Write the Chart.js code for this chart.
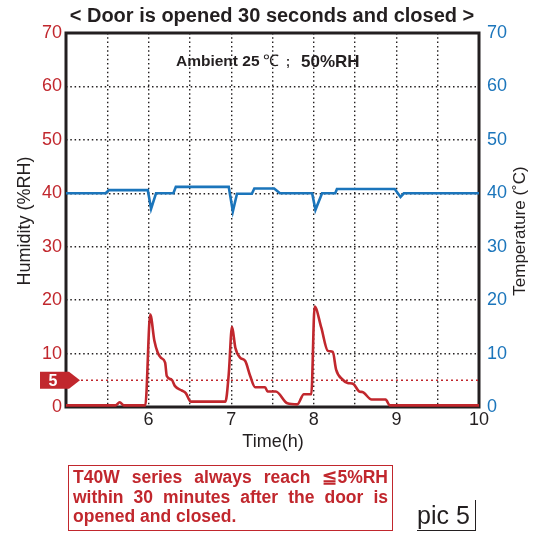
<!DOCTYPE html>
<html>
<head>
<meta charset="utf-8">
<script src="https://cdn.jsdelivr.net/npm/chart.js@4/dist/chart.umd.min.js"></script>
<style>
  html, body { margin: 0; padding: 0; background: #fff; }
  #wrap { position: relative; width: 545px; height: 533px; overflow: hidden; font-family: "Liberation Sans", Arial, sans-serif; }
  #note {
    position: absolute; left: 68px; top: 465px; width: 315px; height: 62px;
    border: 1.5px solid #c1272d; padding: 2px 4px 0 4px;
    color: #c1272d; font-weight: bold; font-size: 17.5px; line-height: 19.5px;
  }
  #note .j { text-align: justify; text-align-last: justify; }
  #pic {
    position: absolute; left: 417px; top: 500px; width: 58px; height: 30px;
    border-right: 1.5px solid #231f20; border-bottom: 1.5px solid #231f20;
    color: #231f20; font-size: 25px; line-height: 30px;
  }
</style>
</head>
<body>
<div id="wrap">
  <canvas id="chart" width="545" height="533"></canvas>
  <div id="note">
    <div class="j">T40W series always reach ≦5%RH</div>
    <div class="j">within 30 minutes after the door is</div>
    <div>opened and closed.</div>
  </div>
  <div id="pic">pic 5</div>
</div>
<script>
const RED = '#c1272d';
const BLUE = '#1b75bb';
const INK = '#231f20';

// humidity (%RH) vs time (h)
const humTime = [5.0, 5.6, 5.65, 5.7, 5.96, 6.02, 6.07, 6.11, 6.15, 6.2, 6.22, 6.28, 6.32, 6.4, 6.45, 6.51,
  6.93, 6.97, 7.01, 7.05, 7.11, 7.17, 7.23, 7.29, 7.41, 7.44, 7.54, 7.68, 7.8, 7.88, 7.97,
  8.01, 8.09, 8.17, 8.23, 8.27, 8.35, 8.41, 8.48, 8.55, 8.59, 8.7, 8.87, 8.92, 10.0];
const humValues = [0.3, 0.3, 0.9, 0.3, 0.3, 17.3, 12.4, 10.2, 9.2, 8.3, 5.8, 5.1, 3.9, 3.1, 2.6, 1.0,
  1.0, 6.1, 15.0, 11.1, 9.2, 8.6, 5.8, 3.7, 3.7, 2.9, 2.9, 0.7, 0.5, 2.4, 2.4,
  18.8, 14.9, 10.5, 10.3, 7.0, 5.1, 4.5, 4.3, 2.9, 2.8, 1.4, 1.4, 0.3, 0.3];

// temperature (°C) vs time (h)
const tempTime = [5.0, 5.48, 5.52, 5.99, 6.03, 6.09, 6.3, 6.33, 6.97, 7.02, 7.07, 7.25, 7.28, 7.52, 7.59,
  7.98, 8.02, 8.1, 8.26, 8.28, 8.98, 9.05, 9.09, 10.0];
const tempValues = [40.0, 40.0, 40.6, 40.6, 37.1, 40.0, 40.0, 41.2, 41.2, 36.6, 39.9, 39.9, 40.9, 40.9, 40.0,
  40.0, 36.9, 40.0, 40.0, 40.8, 40.8, 39.3, 40.0, 40.0];

const limitTime = [5, 10];
const limitValues = [5, 5];

const xTicks = [6, 7, 8, 9, 10];
const yTicks = [0, 10, 20, 30, 40, 50, 60, 70];

const toPoints = (xs, ys) => xs.map((x, i) => ({ x: x, y: ys[i] }));

const dotted = { display: false, dash: [1.5, 2.8] };
const FONT = '"Liberation Sans", Arial, sans-serif';

const extras = {
  id: 'extras',
  beforeDatasetsDraw(chart) {
    const { ctx, chartArea: a } = chart;
    ctx.save();
    ctx.strokeStyle = INK;
    ctx.lineWidth = 3;
    ctx.strokeRect(a.left, a.top, a.right - a.left, a.bottom - a.top);
    ctx.restore();
  },
  afterDraw(chart) {
    const { ctx } = chart;
    ctx.save();
    ctx.fillStyle = INK;
    ctx.textAlign = 'center';
    ctx.textBaseline = 'middle';
    ctx.font = 'bold 20px ' + FONT;
    ctx.fillText('< Door is opened 30 seconds and closed >', 272, 16);

    // ambient note, pieces placed like the original
    ctx.textAlign = 'left';
    ctx.font = 'bold 15.5px ' + FONT;
    ctx.fillText('Ambient 25', 176, 62);
    ctx.font = '16px ' + FONT;
    ctx.fillText('℃', 263, 62);
    ctx.font = 'bold 12px ' + FONT;
    ctx.fillText(';', 286, 63);
    ctx.font = 'bold 17px ' + FONT;
    ctx.fillText('50%RH', 301, 62);

    ctx.textAlign = 'center';
    ctx.font = '18px ' + FONT;
    ctx.fillText('Time(h)', 273, 442);

    ctx.save();
    ctx.translate(25, 221);
    ctx.rotate(-Math.PI / 2);
    ctx.fillText('Humidity (%RH)', 0, 0);
    ctx.restore();

    ctx.save();
    ctx.translate(520, 231);
    ctx.rotate(-Math.PI / 2);
    ctx.font = '17px ' + FONT;
    ctx.fillText('Temperature (˚C)', 0, 0);
    ctx.restore();

    // 5 %RH marker
    const y5 = chart.scales.yL.getPixelForValue(5);
    ctx.fillStyle = RED;
    ctx.beginPath();
    ctx.moveTo(40, y5 - 8.5);
    ctx.lineTo(69, y5 - 8.5);
    ctx.lineTo(80, y5);
    ctx.lineTo(69, y5 + 8.5);
    ctx.lineTo(40, y5 + 8.5);
    ctx.closePath();
    ctx.fill();
    ctx.fillStyle = '#fff';
    ctx.font = 'bold 16px ' + FONT;
    ctx.fillText('5', 53, y5 + 1);
    ctx.restore();
  }
};

new Chart(document.getElementById('chart'), {
  type: 'line',
  data: {
    datasets: [
      { label: 'Humidity', data: toPoints(humTime, humValues), yAxisID: 'yL', borderColor: RED, borderWidth: 2.6, pointRadius: 0, cubicInterpolationMode: 'monotone' },
      { label: 'Temperature', data: toPoints(tempTime, tempValues), yAxisID: 'yR', borderColor: BLUE, borderWidth: 2.6, pointRadius: 0, tension: 0 },
      { label: 'Limit', data: toPoints(limitTime, limitValues), yAxisID: 'yL', borderColor: RED, borderWidth: 1.6, borderDash: [2, 3], pointRadius: 0 }
    ]
  },
  options: {
    responsive: false,
    animation: false,
    layout: { padding: { top: 33, left: 0, right: 0, bottom: 0 } },
    plugins: { legend: { display: false }, tooltip: { enabled: false } },
    scales: {
      x: {
        type: 'linear', min: 5, max: 10,
        afterFit: s => { s.height = 126; },
        afterBuildTicks: s => { s.ticks = []; for (let v = 5; v <= 10; v += 0.5) s.ticks.push({ value: v }); },
        ticks: {
          autoSkip: false, maxRotation: 0, padding: 2, color: INK,
          font: { family: FONT, size: 18 },
          callback: v => xTicks.includes(v) ? String(v) : ''
        },
        grid: { color: INK, lineWidth: 1.4, drawTicks: false },
        border: dotted
      },
      yL: {
        position: 'left', min: 0, max: 70,
        afterFit: s => { s.width = 66; },
        afterBuildTicks: s => { s.ticks = yTicks.map(v => ({ value: v })); },
        ticks: { padding: 4, color: RED, font: { family: FONT, size: 18 } },
        grid: { color: INK, lineWidth: 1.4, drawTicks: false },
        border: dotted
      },
      yR: {
        position: 'right', min: 0, max: 70,
        afterFit: s => { s.width = 66; },
        afterBuildTicks: s => { s.ticks = yTicks.map(v => ({ value: v })); },
        ticks: { padding: 8, color: BLUE, font: { family: FONT, size: 18 } },
        grid: { display: false, drawTicks: false },
        border: { display: false }
      }
    }
  },
  plugins: [extras]
});
</script>
</body>
</html>
